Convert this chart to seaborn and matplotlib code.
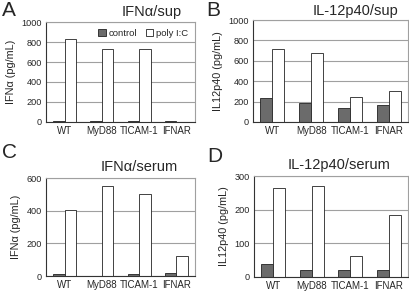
import pandas as pd
import matplotlib.pyplot as plt
import seaborn as sns

# ── data ──────────────────────────────────────────────
strains = ['WT', 'MyD88', 'TICAM-1', 'IFNAR']
treatments = ['control', 'poly I:C']

ifn_sup_ctrl = [5, 10, 8, 12]
ifn_sup_poly = [830, 730, 730, 0]
il12_sup_ctrl = [240, 190, 135, 170]
il12_sup_poly = [720, 680, 245, 305]
ifn_ser_ctrl = [10, 0, 10, 20]
ifn_ser_poly = [405, 550, 500, 120]
il12_ser_ctrl = [38, 20, 22, 20]
il12_ser_poly = [265, 270, 62, 185]

panels = [
    ('A', 'IFN\u03b1/sup', 'IFN\u03b1 (pg/mL)', ifn_sup_ctrl, ifn_sup_poly, [0, 200, 400, 600, 800, 1000]),
    ('B', 'IL-12p40/sup', 'IL12p40 (pg/mL)', il12_sup_ctrl, il12_sup_poly, [0, 200, 400, 600, 800, 1000]),
    ('C', 'IFN\u03b1/serum', 'IFN\u03b1 (pg/mL)', ifn_ser_ctrl, ifn_ser_poly, [0, 200, 400, 600]),
    ('D', 'IL-12p40/serum', 'IL12p40 (pg/mL)', il12_ser_ctrl, il12_ser_poly, [0, 100, 200, 300]),
]

# layout in figure pixels: axes box (left, top, right, bottom), title centre, letter position
W, H = 409, 295
boxes = [(46, 22, 195, 122), (253, 20, 408, 122), (46, 178, 195, 276), (254, 176, 408, 277)]
title_pos = [(152, 12), (356, 11), (139, 167), (339, 165)]
letter_pos = [(2, 11), (206, 11), (2, 153), (207, 157)]

sns.set_style('white')
plt.rcParams['font.family'] = ['Liberation Sans', 'DejaVu Sans']

fig = plt.figure(figsize=(W / 100, H / 100), dpi=100)
palette = {'control': '#6b6b6b', 'poly I:C': 'white'}

for i, (letter, title, ylabel, ctrl, poly, ticks) in enumerate(panels):
    l, t, r, b = boxes[i]
    ax = fig.add_axes([l / W, 1 - b / H, (r - l) / W, (b - t) / H])
    df = pd.DataFrame({
        'strain': strains * 2,
        'treatment': ['control'] * 4 + ['poly I:C'] * 4,
        'value': ctrl + poly,
    })
    sns.barplot(data=df, x='strain', y='value', hue='treatment', hue_order=treatments,
                palette=palette, width=0.62, edgecolor='#222222', linewidth=0.6,
                ax=ax, legend=(letter == 'A'))
    ax.set_ylim(0, ticks[-1])
    ax.set_xlim(-0.5, 3.5)
    ax.set_yticks(ticks)
    ax.yaxis.grid(True, color='#a0a0a0', linewidth=0.8)
    ax.set_axisbelow(True)
    for s in ['top', 'right']:
        ax.spines[s].set_color('#a0a0a0')
        ax.spines[s].set_linewidth(0.8)
    for s in ['left', 'bottom']:
        ax.spines[s].set_color('#333333')
        ax.spines[s].set_linewidth(0.8)
    ax.tick_params(axis='x', labelsize=7, length=0, pad=3)
    ax.tick_params(axis='y', labelsize=6.6, length=0, pad=3)
    ax.set_xlabel('')
    ax.set_ylabel(ylabel, fontsize=7.8, labelpad=4)

    tx, ty = title_pos[i]
    fig.text(tx / W, 1 - ty / H, title, fontsize=10.5, ha='center', va='center')
    lx, ly = letter_pos[i]
    fig.text(lx / W, 1 - ly / H, letter, fontsize=15, ha='left', va='center')

    if letter == 'A':
        ax.legend(loc='upper right', ncol=2, frameon=False, fontsize=6.8,
                  handlelength=0.8, handleheight=0.8, handletextpad=0.3,
                  columnspacing=0.9, borderaxespad=0.3)

fig.savefig('out.png', dpi=100, facecolor='white')
